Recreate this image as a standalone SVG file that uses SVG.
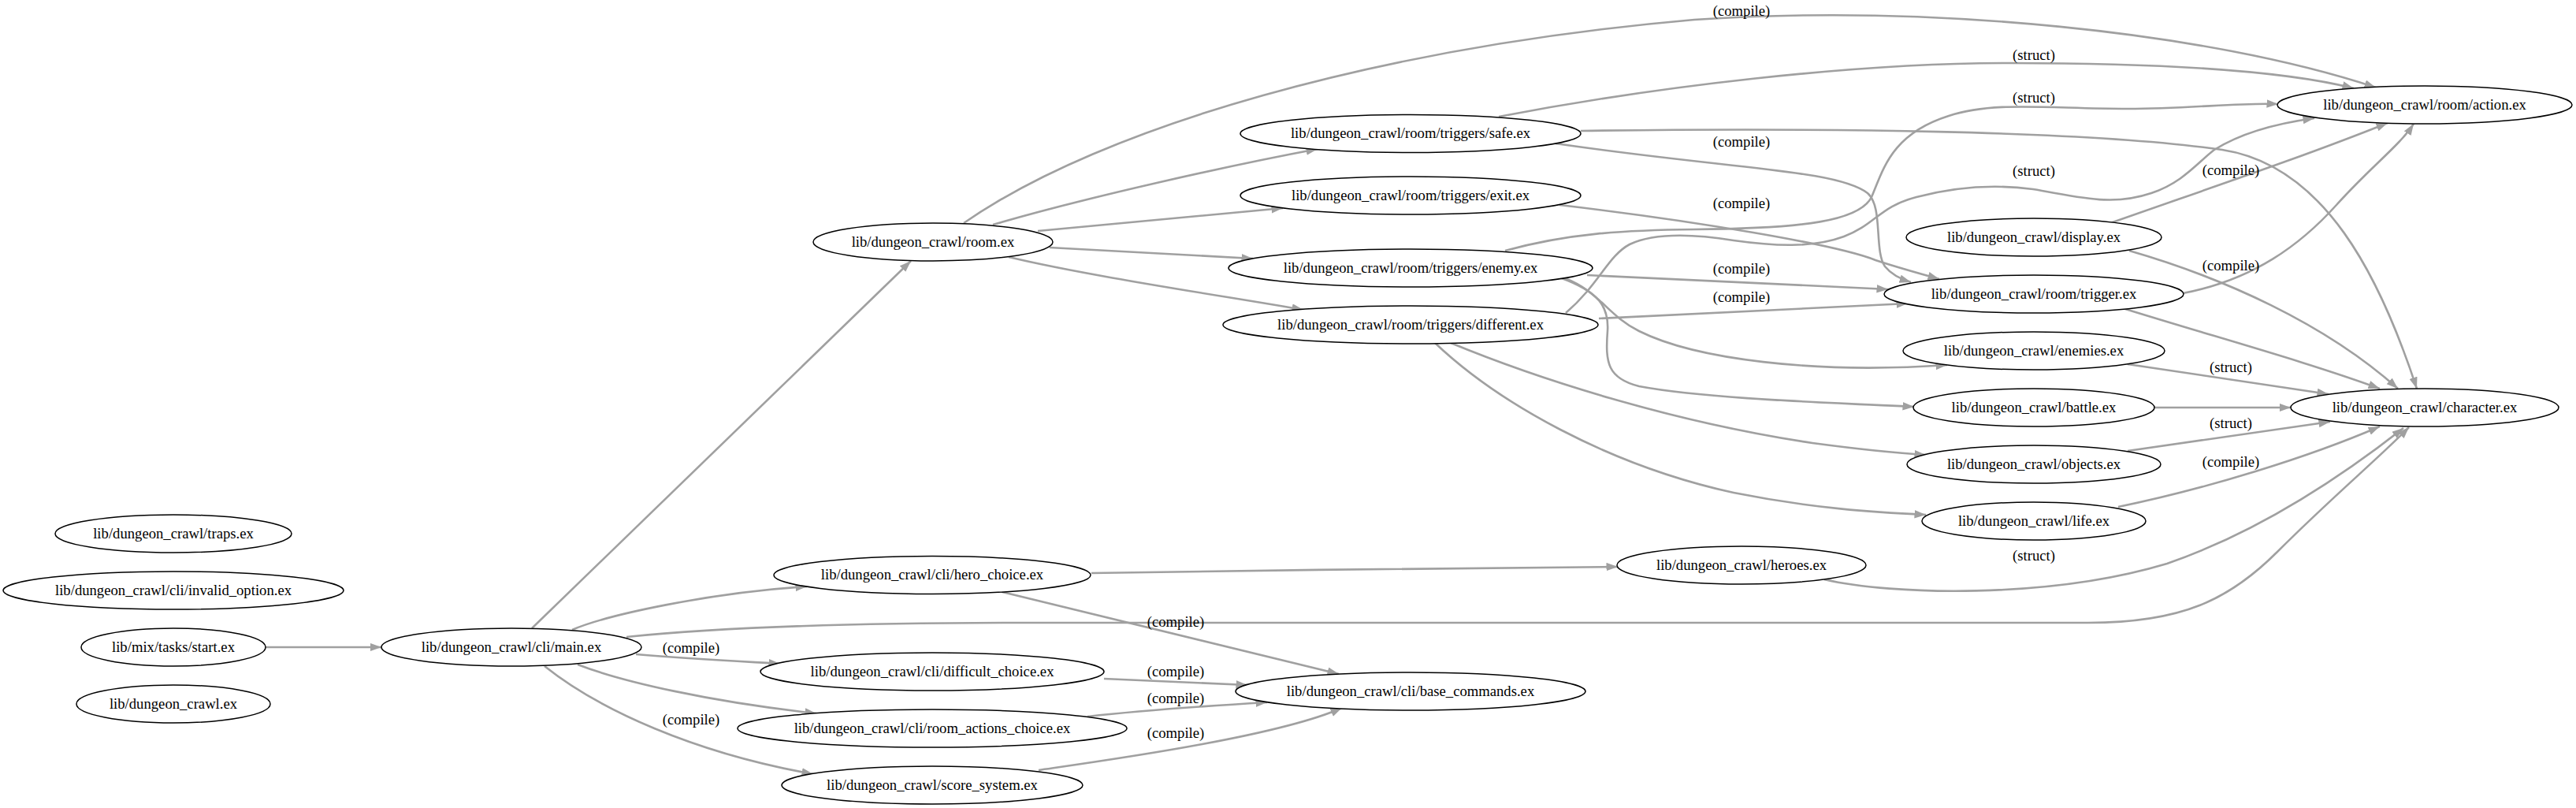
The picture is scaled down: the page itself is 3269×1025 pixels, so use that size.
<svg xmlns="http://www.w3.org/2000/svg" width="3269" height="1025" viewBox="0 0 3269 1025">
<style>
.n ellipse{fill:#ffffff;stroke:#000000;stroke-width:1.5}
.n text,.lbl text{font-family:"Liberation Serif","Times New Roman",serif;font-size:18.67px;fill:#000000;text-anchor:middle}
.e path{fill:none;stroke:#a0a0a0;stroke-width:2.6;marker-end:url(#ah)}
</style>
<defs>
<marker id="ah" markerUnits="userSpaceOnUse" viewBox="0 0 15 11" markerWidth="15" markerHeight="11" refX="14.5" refY="5.25" orient="auto"><path d="M0,0 L14.5,5.25 L0,10.5 z" fill="#a0a0a0"/></marker>
</defs>
<rect width="3269" height="1025" fill="#ffffff"/>
<g id="connectors" class="e">
<path d="M337,821 L484,821"/>
<path d="M675,797 L1156,331"/>
<path d="M726,799 C770,780 900,752 1024,744"/>
<path d="M795,808 C950,792 1150,790 1300,790 L2650,790 C2770,790 2830,760 2890,700 C2960,630 3020,580 3057,542"/>
<path d="M807,830 C880,836 940,839 990,842"/>
<path d="M733,843 C790,865 900,890 1036,905"/>
<path d="M691,845 C760,900 880,955 1032,982"/>
<path d="M1385,727 C1600,724 1850,720 2053,719"/>
<path d="M1272,751 L1699,855"/>
<path d="M1401,861 C1480,865 1540,867 1583,869"/>
<path d="M1380,909 C1450,901 1540,895 1608,891"/>
<path d="M1318,977 C1400,965 1620,935 1703,898"/>
<path d="M1223,283 C1400,160 1750,60 2150,25 C2450,5 2800,40 3015,111"/>
<path d="M1260,285 C1380,250 1560,210 1672,189"/>
<path d="M1317,293 L1628,264"/>
<path d="M1332,314 L1590,328"/>
<path d="M1280,326 C1380,350 1550,375 1654,393"/>
<path d="M1902,148 C2100,110 2350,80 2550,80 C2750,80 2900,90 2987,112"/>
<path d="M2006,166 C2300,162 2650,165 2820,190 C2950,210 3020,350 3067,493"/>
<path d="M1974,182 C2200,215 2330,215 2370,245 C2390,262 2378,318 2392,338 C2400,348 2412,354 2425,358"/>
<path d="M1979,260 C2150,280 2330,310 2380,330 C2410,340 2440,348 2461,354"/>
<path d="M1910,318 C1990,296 2060,292 2150,291 C2290,290 2360,280 2375,250 C2390,215 2400,170 2473,147 C2530,128 2600,138 2700,138 C2780,138 2840,130 2891,132"/>
<path d="M1987,397 C2030,360 2040,325 2068,310 C2100,295 2150,297 2200,305 C2250,312 2300,315 2340,300 C2380,285 2385,262 2432,250 C2470,240 2520,232 2580,240 C2640,250 2680,262 2730,245 C2770,232 2790,205 2810,190 C2850,165 2900,155 2937,150"/>
<path d="M2678,283 C2800,240 2920,200 3030,156"/>
<path d="M2702,318 C2820,352 2950,410 3043,493"/>
<path d="M2770,372 C2860,355 2920,310 2965,260 C3010,210 3045,185 3063,157"/>
<path d="M2697,392 C2820,430 2930,460 3020,493"/>
<path d="M2700,462 L2955,500"/>
<path d="M2733,517 L2907,517"/>
<path d="M2700,572 L2957,535"/>
<path d="M2688,643 C2800,620 2930,580 3020,541"/>
<path d="M2315,735 C2400,755 2600,760 2750,715 C2880,670 2990,590 3050,543"/>
<path d="M1986,353 C2030,370 2040,400 2080,420 C2150,455 2300,475 2471,463"/>
<path d="M1979,352 C2030,370 2042,390 2040,420 C2037,460 2040,480 2080,490 C2160,505 2300,510 2429,516"/>
<path d="M1841,435 C1950,480 2120,535 2300,562 C2360,570 2410,575 2444,577"/>
<path d="M1821,435 C1900,510 2040,590 2200,625 C2300,645 2380,650 2444,653"/>
<path d="M2014,349 L2396,367"/>
<path d="M2029,404 L2421,385"/>
</g>
<g id="edge-labels" class="lbl">
<text x="2210" y="20">(compile)</text>
<text x="2581" y="76">(struct)</text>
<text x="2581" y="130">(struct)</text>
<text x="2210" y="186">(compile)</text>
<text x="2581" y="223">(struct)</text>
<text x="2831" y="222">(compile)</text>
<text x="2210" y="264">(compile)</text>
<text x="2831" y="343">(compile)</text>
<text x="2210" y="347">(compile)</text>
<text x="2210" y="383">(compile)</text>
<text x="2831" y="472">(struct)</text>
<text x="2831" y="543">(struct)</text>
<text x="2831" y="592">(compile)</text>
<text x="2581" y="711">(struct)</text>
<text x="1492" y="795">(compile)</text>
<text x="877" y="828">(compile)</text>
<text x="877" y="919">(compile)</text>
<text x="1492" y="858">(compile)</text>
<text x="1492" y="892">(compile)</text>
<text x="1492" y="936">(compile)</text>
</g>
<g id="n-traps" class="n"><ellipse cx="220" cy="677" rx="150" ry="24"/><text x="220" y="682.5">lib/dungeon_crawl/traps.ex</text></g>
<g id="n-invalid-option" class="n"><ellipse cx="220" cy="749" rx="216" ry="24"/><text x="220" y="754.5">lib/dungeon_crawl/cli/invalid_option.ex</text></g>
<g id="n-start" class="n"><ellipse cx="220" cy="821" rx="117" ry="24"/><text x="220" y="826.5">lib/mix/tasks/start.ex</text></g>
<g id="n-dungeon-crawl" class="n"><ellipse cx="220" cy="893" rx="123" ry="24"/><text x="220" y="898.5">lib/dungeon_crawl.ex</text></g>
<g id="n-main" class="n"><ellipse cx="649" cy="821" rx="165" ry="24"/><text x="649" y="826.5">lib/dungeon_crawl/cli/main.ex</text></g>
<g id="n-room" class="n"><ellipse cx="1184" cy="307" rx="152" ry="24"/><text x="1184" y="312.5">lib/dungeon_crawl/room.ex</text></g>
<g id="n-hero-choice" class="n"><ellipse cx="1183" cy="729.5" rx="201" ry="24"/><text x="1183" y="735">lib/dungeon_crawl/cli/hero_choice.ex</text></g>
<g id="n-difficult-choice" class="n"><ellipse cx="1183" cy="852" rx="218" ry="24"/><text x="1183" y="857.5">lib/dungeon_crawl/cli/difficult_choice.ex</text></g>
<g id="n-room-actions-choice" class="n"><ellipse cx="1183" cy="924" rx="247" ry="24"/><text x="1183" y="929.5">lib/dungeon_crawl/cli/room_actions_choice.ex</text></g>
<g id="n-score-system" class="n"><ellipse cx="1183" cy="996" rx="191" ry="24"/><text x="1183" y="1001.5">lib/dungeon_crawl/score_system.ex</text></g>
<g id="n-safe" class="n"><ellipse cx="1790" cy="169.5" rx="216" ry="24"/><text x="1790" y="175">lib/dungeon_crawl/room/triggers/safe.ex</text></g>
<g id="n-exit" class="n"><ellipse cx="1790" cy="248" rx="216" ry="24"/><text x="1790" y="253.5">lib/dungeon_crawl/room/triggers/exit.ex</text></g>
<g id="n-enemy" class="n"><ellipse cx="1790" cy="340" rx="231" ry="24"/><text x="1790" y="345.5">lib/dungeon_crawl/room/triggers/enemy.ex</text></g>
<g id="n-different" class="n"><ellipse cx="1790" cy="412" rx="238" ry="24"/><text x="1790" y="417.5">lib/dungeon_crawl/room/triggers/different.ex</text></g>
<g id="n-base-commands" class="n"><ellipse cx="1790" cy="877" rx="222" ry="24"/><text x="1790" y="882.5">lib/dungeon_crawl/cli/base_commands.ex</text></g>
<g id="n-heroes" class="n"><ellipse cx="2210" cy="717" rx="158" ry="24"/><text x="2210" y="722.5">lib/dungeon_crawl/heroes.ex</text></g>
<g id="n-display" class="n"><ellipse cx="2581" cy="301" rx="162" ry="24"/><text x="2581" y="306.5">lib/dungeon_crawl/display.ex</text></g>
<g id="n-trigger" class="n"><ellipse cx="2581" cy="373" rx="190" ry="24"/><text x="2581" y="378.5">lib/dungeon_crawl/room/trigger.ex</text></g>
<g id="n-enemies" class="n"><ellipse cx="2581" cy="445" rx="166" ry="24"/><text x="2581" y="450.5">lib/dungeon_crawl/enemies.ex</text></g>
<g id="n-battle" class="n"><ellipse cx="2581" cy="517" rx="153" ry="24"/><text x="2581" y="522.5">lib/dungeon_crawl/battle.ex</text></g>
<g id="n-objects" class="n"><ellipse cx="2581" cy="589" rx="161" ry="24"/><text x="2581" y="594.5">lib/dungeon_crawl/objects.ex</text></g>
<g id="n-life" class="n"><ellipse cx="2581" cy="661" rx="142" ry="24"/><text x="2581" y="666.5">lib/dungeon_crawl/life.ex</text></g>
<g id="n-action" class="n"><ellipse cx="3077" cy="133" rx="187" ry="24"/><text x="3077" y="138.5">lib/dungeon_crawl/room/action.ex</text></g>
<g id="n-character" class="n"><ellipse cx="3077" cy="517" rx="170" ry="24"/><text x="3077" y="522.5">lib/dungeon_crawl/character.ex</text></g>
</svg>
